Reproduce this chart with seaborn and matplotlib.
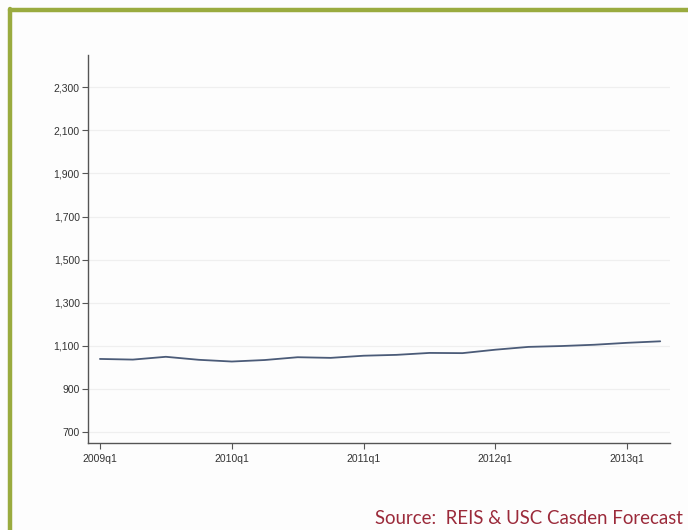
import matplotlib
matplotlib.use("Agg")
import matplotlib.pyplot as plt
import seaborn as sns
import pandas as pd
from matplotlib.lines import Line2D
from matplotlib.ticker import FuncFormatter

quarters = ["2009q1", "2009q2", "2009q3", "2009q4",
            "2010q1", "2010q2", "2010q3", "2010q4",
            "2011q1", "2011q2", "2011q3", "2011q4",
            "2012q1", "2012q2", "2012q3", "2012q4",
            "2013q1", "2013q2"]
rent = [1038, 1035, 1048, 1034, 1026, 1033, 1046, 1043,
        1053, 1057, 1066, 1065, 1081, 1094, 1098, 1104,
        1113, 1120]
y_ticks = [700, 900, 1100, 1300, 1500, 1700, 1900, 2100, 2300]
x_tick_labels = ["2009q1", "2010q1", "2011q1", "2012q1", "2013q1"]
source_text = "Source:  REIS & USC Casden Forecast"

sns.set_theme(style="white")
plt.rcParams["font.family"] = ["Liberation Sans", "DejaVu Sans"]

df = pd.DataFrame({"q": range(len(quarters)), "rent": rent, "label": quarters})

fig = plt.figure(figsize=(6.88, 5.30), dpi=100)
fig.patch.set_facecolor("#fdfdfd")
ax = fig.add_axes([0.128, 0.164, 0.846, 0.732])
ax.set_facecolor("#fdfdfd")

sns.lineplot(data=df, x="q", y="rent", ax=ax, color="#4b5b78", linewidth=1.3)

ax.set_ylim(647, 2450)
ax.set_xlim(-0.36, 17.3)
ax.set_yticks(y_ticks)
ax.yaxis.set_major_formatter(FuncFormatter(lambda v, p: f"{int(v):,}"))
xt = [quarters.index(l) for l in x_tick_labels]
ax.set_xticks(xt)
ax.set_xticklabels(x_tick_labels)
ax.set_xlabel("")
ax.set_ylabel("")

for v in y_ticks:
    ax.axhline(v, color="#efefef", linewidth=0.9, zorder=0)

for s in ["top", "right"]:
    ax.spines[s].set_visible(False)
for s in ["left", "bottom"]:
    ax.spines[s].set_color("#555555")
    ax.spines[s].set_linewidth(1.0)
ax.tick_params(axis="both", which="major", length=4, width=0.8, color="#555555",
               labelsize=7.5, labelcolor="#333333", direction="out",
               left=True, bottom=True, pad=2)
ax.tick_params(axis="x", pad=4)

# green frame lines (top and left)
fig.add_artist(Line2D([10/688, 1.0], [1 - 10/530, 1 - 10/530],
                      transform=fig.transFigure, color="#9aab3f", linewidth=3.2))
fig.add_artist(Line2D([10/688, 10/688], [0.0, 1 - 8.5/530],
                      transform=fig.transFigure, color="#9aab3f", linewidth=3.2))

fig.text(375/688, 1 - 519/530, source_text, color="#9b2a3a", fontsize=13.4,
         family=["Lato", "DejaVu Sans"], va="center", ha="left")

fig.savefig("out.png", dpi=100, facecolor=fig.get_facecolor())
